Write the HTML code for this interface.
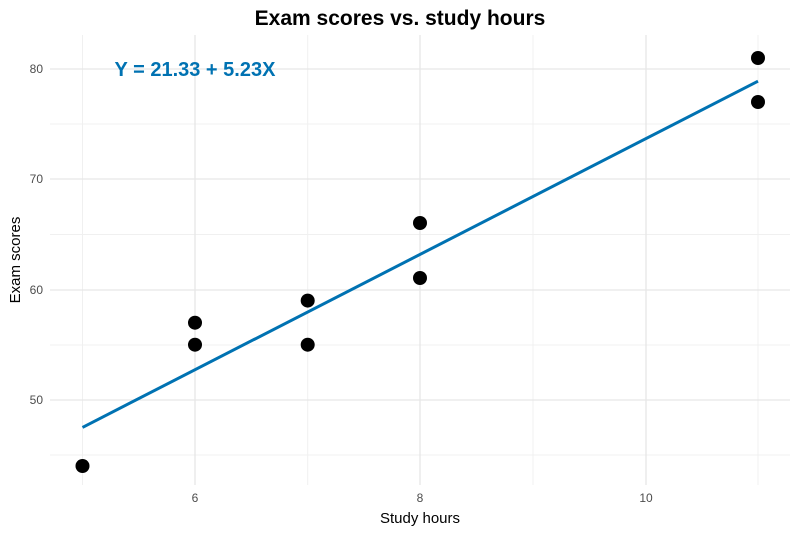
<!DOCTYPE html>
<html><head><style>body{margin:0;background:#fff}</style></head><body>
<svg width="800" height="533" xmlns="http://www.w3.org/2000/svg" font-family="Liberation Sans, sans-serif">
<rect width="800" height="533" fill="#fff"/>
<g stroke="#f0f0f0" stroke-width="1">
<line x1="82.5" y1="35" x2="82.5" y2="485"/><line x1="307.7" y1="35" x2="307.7" y2="485"/>
<line x1="533" y1="35" x2="533" y2="485"/><line x1="758" y1="35" x2="758" y2="485"/>
<line x1="50" y1="124" x2="790" y2="124"/><line x1="50" y1="234.5" x2="790" y2="234.5"/>
<line x1="50" y1="345" x2="790" y2="345"/><line x1="50" y1="455" x2="790" y2="455"/>
</g>
<g stroke="#e6e6e6" stroke-width="1.3">
<line x1="195" y1="35" x2="195" y2="485"/><line x1="420" y1="35" x2="420" y2="485"/><line x1="646" y1="35" x2="646" y2="485"/>
<line x1="50" y1="69" x2="790" y2="69"/><line x1="50" y1="179" x2="790" y2="179"/>
<line x1="50" y1="290" x2="790" y2="290"/><line x1="50" y1="400" x2="790" y2="400"/>
</g>
<line x1="82.5" y1="427.4" x2="758" y2="81.2" stroke="#0072B2" stroke-width="3"/>
<g fill="#000">
<circle cx="82.5" cy="466" r="7"/><circle cx="195" cy="322.7" r="7"/><circle cx="195" cy="344.7" r="7"/>
<circle cx="307.7" cy="300.6" r="7"/><circle cx="307.7" cy="344.7" r="7"/><circle cx="420" cy="223" r="7"/>
<circle cx="420" cy="278" r="7"/><circle cx="758" cy="58" r="7"/><circle cx="758" cy="102" r="7"/>
</g>
<g fill="#4d4d4d" font-size="12">
<text x="195" y="502" text-anchor="middle">6</text><text x="420" y="502" text-anchor="middle">8</text><text x="646" y="502" text-anchor="middle">10</text>
<text x="43" y="73" text-anchor="end">80</text><text x="43" y="183" text-anchor="end">70</text>
<text x="43" y="294" text-anchor="end">60</text><text x="43" y="404" text-anchor="end">50</text>
</g>
<text x="420" y="523" text-anchor="middle" font-size="15">Study hours</text>
<text transform="translate(20,260) rotate(-90)" text-anchor="middle" font-size="15">Exam scores</text>
<text x="400" y="25" text-anchor="middle" font-size="21" font-weight="bold">Exam scores vs. study hours</text>
<text x="195" y="76" text-anchor="middle" font-size="20" font-weight="bold" fill="#0072B2">Y = 21.33 + 5.23X</text>
</svg>
</body></html>
